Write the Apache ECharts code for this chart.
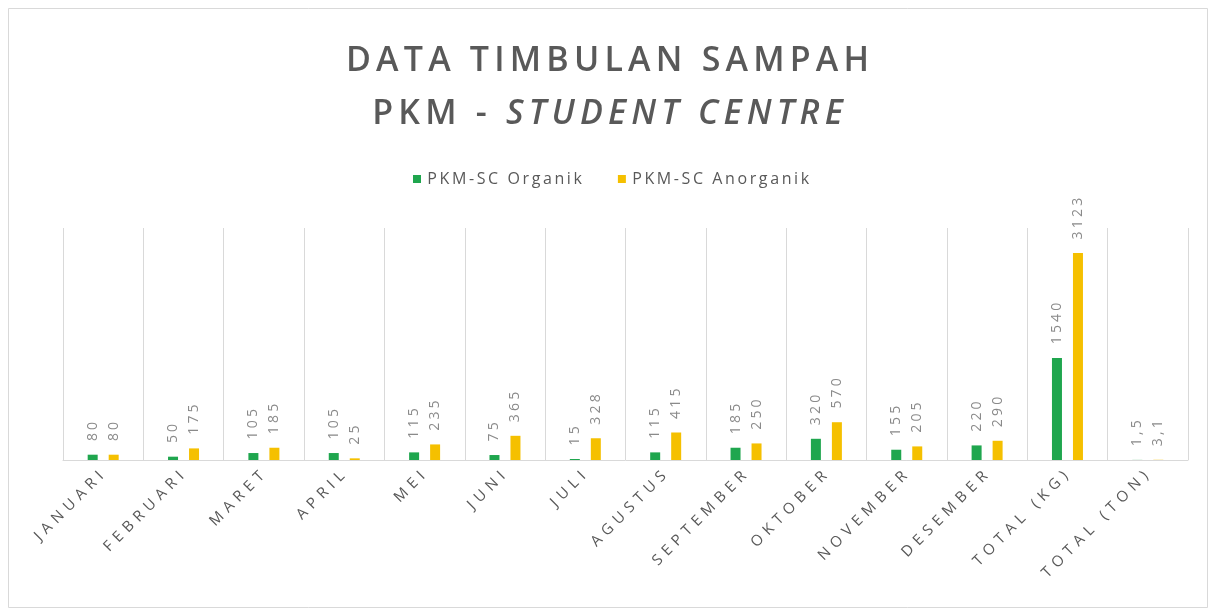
<!DOCTYPE html>
<html>
<head>
<meta charset="utf-8">
<script src="https://cdn.jsdelivr.net/npm/echarts@6/dist/echarts.min.js"></script>
<style>
  html, body { margin: 0; padding: 0; background: #fff; }
  #mainChart { width: 1215px; height: 610px; }
</style>
</head>
<body>
<div id="mainChart"></div>
<script>
const categories = ['JANUARI', 'FEBRUARI', 'MARET', 'APRIL', 'MEI', 'JUNI', 'JULI', 'AGUSTUS',
  'SEPTEMBER', 'OKTOBER', 'NOVEMBER', 'DESEMBER', 'TOTAL (KG)', 'TOTAL (TON)']
const organik = [80, 50, 105, 105, 115, 75, 15, 115, 185, 320, 155, 220, 1540, 1.5]
const anorganik = [80, 175, 185, 25, 235, 365, 328, 415, 250, 570, 205, 290, 3123, 3.1]
const seriesNames = ['PKM-SC Organik', 'PKM-SC Anorganik']
const titleLine1 = 'DATA TIMBULAN SAMPAH'
const titleLine2a = 'PKM - '
const titleLine2b = 'STUDENT CENTRE'

const GREEN = '#1fa64e'
const YELLOW = '#f5c000'
const GREY = '#595959'

// excel pakai spasi antar huruf, ditiru lewat rich text (tiap huruf satu token + padding)
const spaced = (text, key) => String(text).split('').map(c => `{${key}|${c}}`).join('')

const myChart = echarts.init(document.getElementById('mainChart'))

const labelOpt = {
  show: true,
  position: 'top',
  rotate: 90,
  align: 'left',
  verticalAlign: 'middle',
  distance: 12,
  formatter: p => spaced(String(p.value).replace('.', ','), 'v'),
  rich: {
    v: { color: '#8a8a8a', fontFamily: 'Open Sans', fontSize: 14, padding: [0, 1.6, 0, 1.6] },
  },
}

myChart.setOption({
  animation: false,
  backgroundColor: '#fff',
  title: {
    left: 'center',
    top: 30,
    text: spaced(titleLine1, 'a') + '\n' + spaced(titleLine2a, 'a') + spaced(titleLine2b, 'b'),
    textStyle: {
      rich: {
        a: { fontFamily: 'Open Sans', fontSize: 34, fontWeight: 600, color: GREY, lineHeight: 53, padding: [0, 2.6, 0, 2.6] },
        b: { fontFamily: 'Open Sans', fontSize: 34, fontWeight: 600, fontStyle: 'italic', color: GREY, lineHeight: 53, padding: [0, 2.6, 0, 2.6] },
      },
    },
  },
  legend: {
    data: seriesNames,
    top: 166,
    left: 408,
    icon: 'rect',
    itemWidth: 8,
    itemHeight: 8,
    itemGap: 36,
    formatter: name => spaced(name, 'l'),
    textStyle: {
      rich: {
        l: { fontFamily: 'Open Sans', fontSize: 16, color: GREY, padding: [0, 1.3, 0, 1.3] },
      },
    },
  },
  grid: { left: 63, right: 27, top: 228, bottom: 150 },
  xAxis: {
    type: 'category',
    data: categories,
    axisLine: { lineStyle: { color: '#d9d9d9', width: 1 } },
    axisTick: { show: false },
    splitLine: { show: true, lineStyle: { color: '#d9d9d9', width: 1 } },
    axisLabel: {
      rotate: 45,
      margin: 12,
      interval: 0,
      formatter: v => spaced(v, 'x'),
      rich: {
        x: { color: GREY, fontFamily: 'Open Sans', fontSize: 15, padding: [0, 2.7, 0, 2.7] },
      },
    },
  },
  yAxis: {
    type: 'value',
    min: 0,
    max: 3500,
    show: false,
    splitLine: { show: false },
  },
  series: [
    {
      name: seriesNames[0],
      type: 'bar',
      data: organik,
      barWidth: 10,
      barGap: '110%',
      itemStyle: { color: GREEN },
      label: labelOpt,
    },
    {
      name: seriesNames[1],
      type: 'bar',
      data: anorganik,
      barWidth: 10,
      itemStyle: { color: YELLOW },
      label: labelOpt,
    },
  ],
  graphic: [
    {
      type: 'rect',
      shape: { x: 8.5, y: 8.5, width: 1199, height: 599 },
      style: { fill: 'none', stroke: '#d9d9d9', lineWidth: 1 },
      silent: true,
    },
  ],
})
</script>
</body>
</html>
